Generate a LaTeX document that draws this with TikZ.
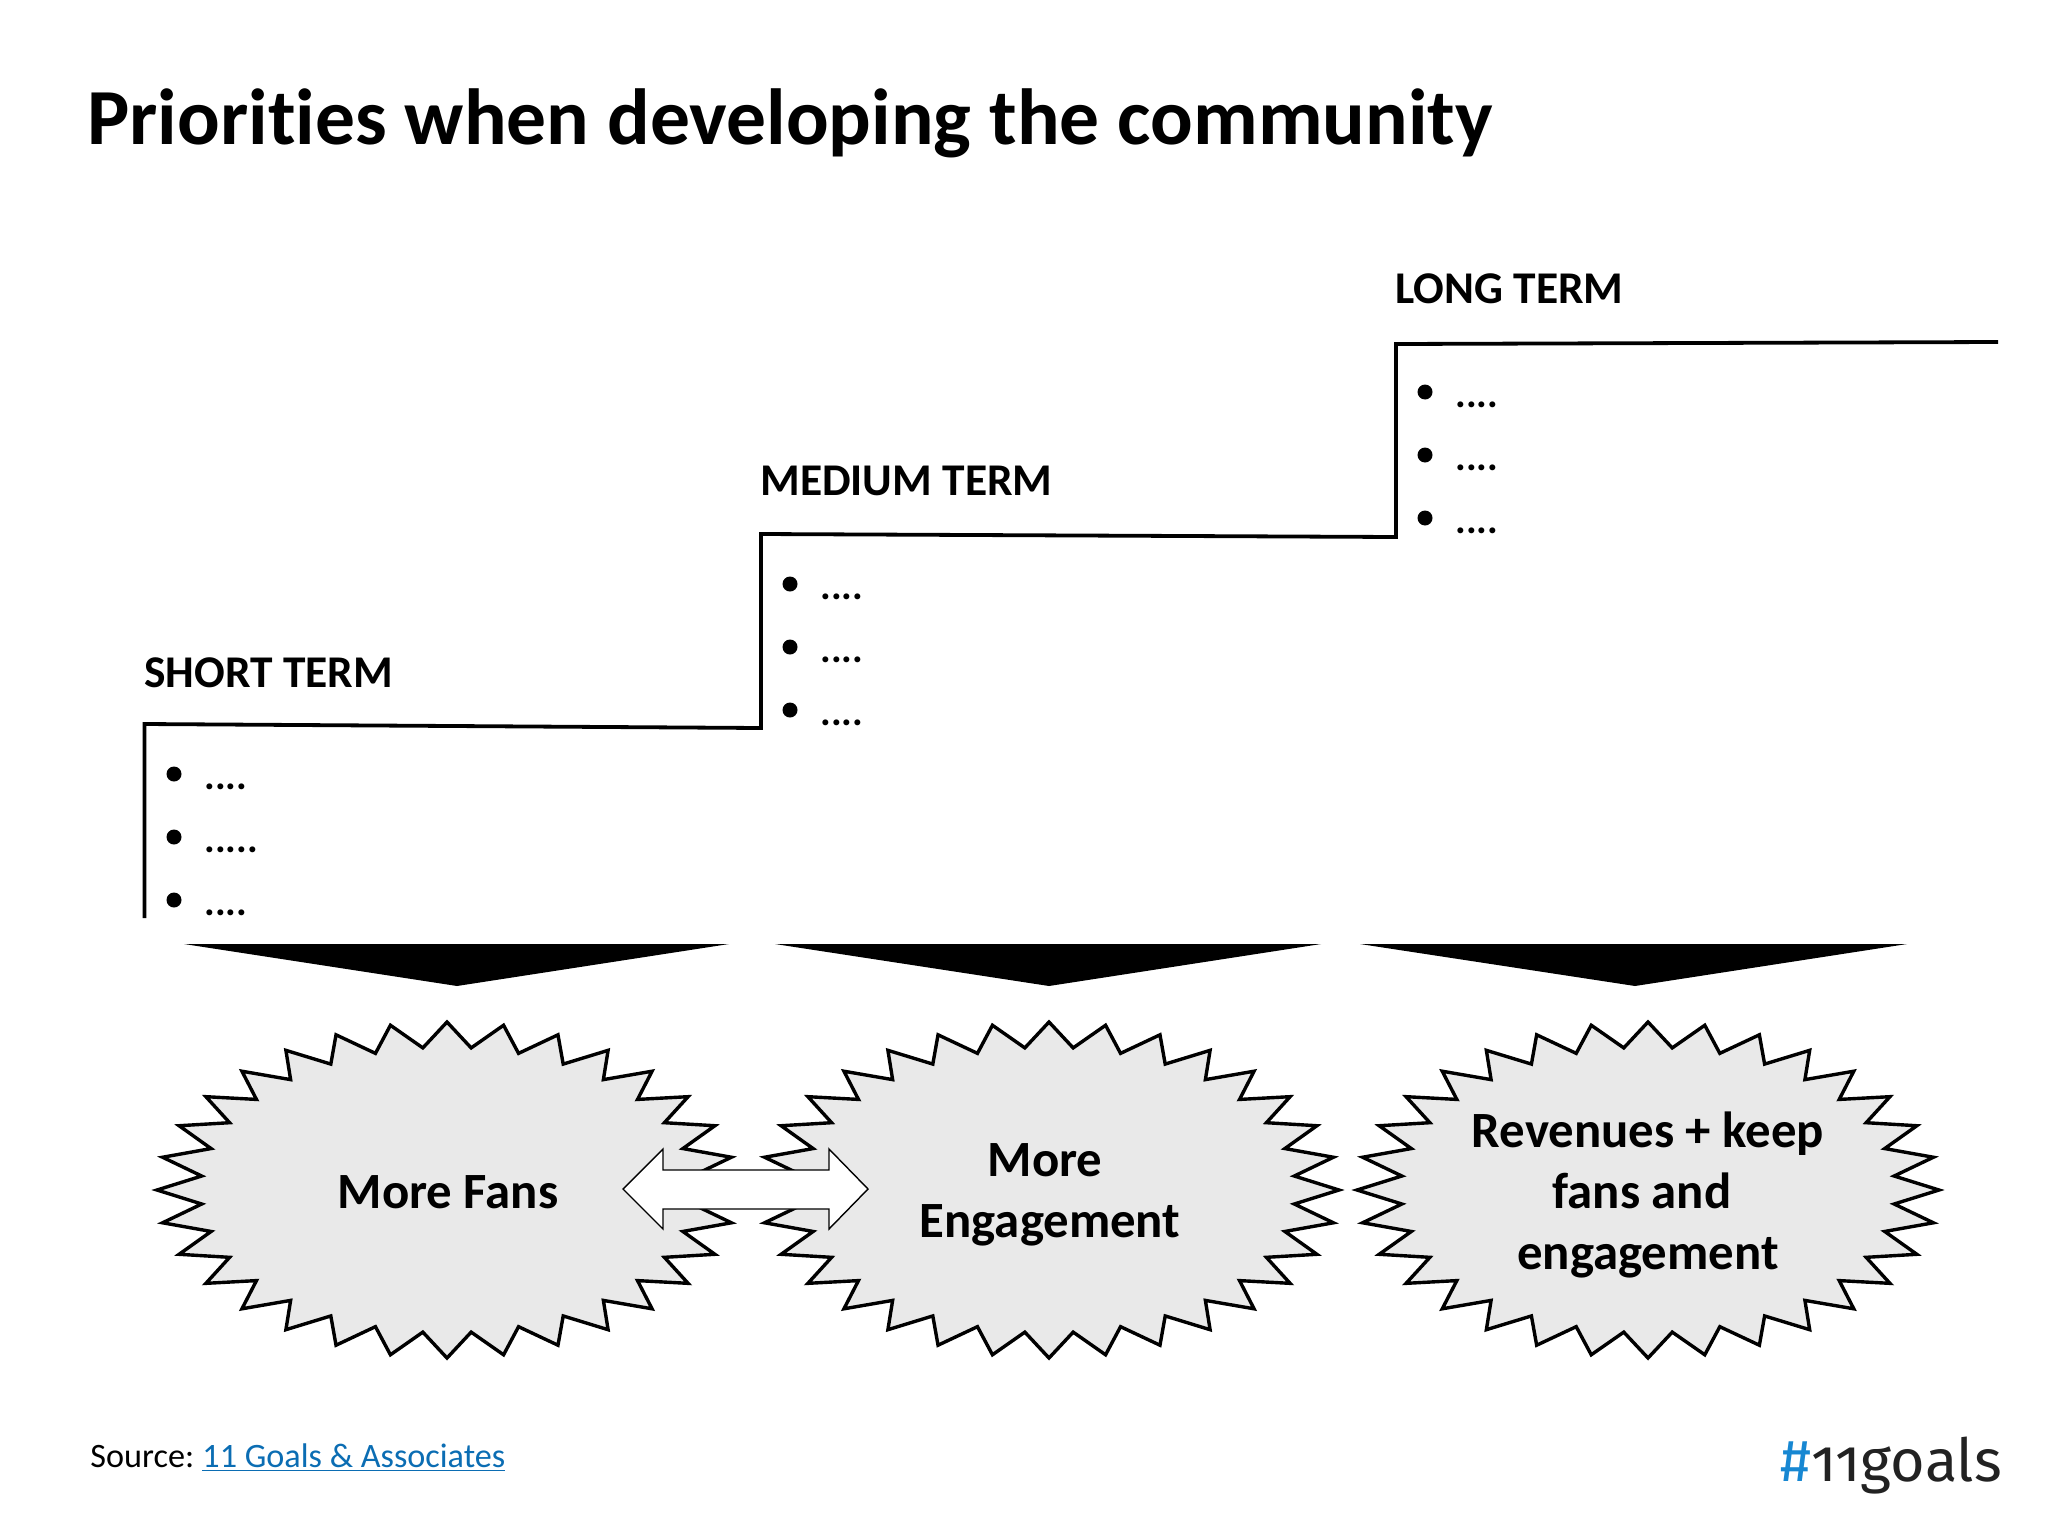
\documentclass[tikz,border=0pt]{standalone}
\usepackage{fontspec}
\setmainfont[Ligatures={NoCommon,TeX}]{Carlito}
\newfontfamily\logofont[Numbers=OldStyle]{Fira Sans}
\definecolor{burstgray}{HTML}{E9E9E9}
\definecolor{linkblue}{HTML}{0B6DB3}
\definecolor{hashblue}{HTML}{1787D2}
\definecolor{logogray}{HTML}{222222}
\tikzset{
  titletext/.style={anchor=base west,inner sep=0,font=\fontsize{39.75}{44}\selectfont\bfseries},
  termtext/.style={anchor=base west,inner sep=0,font=\fontsize{22.7}{26}\selectfont\bfseries},
  dotstext/.style={anchor=base west,inner sep=0,font=\fontsize{20}{24}\selectfont\bfseries},
  bullet/.style={circle,fill=black,inner sep=0,minimum size=7.5pt},
  stepline/.style={draw=black,line width=1.9pt,line join=miter},
  bigdown/.style={fill=black},
  burst/.style={draw=black,fill=burstgray,line width=1.7pt,miter limit=10},
  bursttext/.style={align=center,inner sep=0,font=\fontsize{25.4}{30.5}\selectfont\bfseries},
  twoway/.style={draw=black,fill=white,line width=0.7pt,miter limit=10},
}
\newcommand{\burstat}[4]{% cx cy rx ry
  \path[burst] plot[samples=65,domain=0:64]
    ({#1+#3*(0.85+0.15*(1-mod(round(\x),2)))*cos(\x*5.625)},
     {#2+#4*(0.85+0.15*(1-mod(round(\x),2)))*sin(\x*5.625)}) -- cycle;
}
\newcommand{\termblock}[7]{% name x y labely label d2 d3
  \node[termtext] (#1label) at (#2,#4) {#5};
  \node[bullet] (#1b1) at (#2+30,#3+49) {};
  \node[bullet] (#1b2) at (#2+30,#3+112) {};
  \node[bullet] (#1b3) at (#2+30,#3+175) {};
  \node[dotstext] (#1t1) at (#2+60,#3+64) {....};
  \node[dotstext] (#1t2) at (#2+60,#3+127) {#6};
  \node[dotstext] (#1t3) at (#2+60,#3+190) {#7};
}
\begin{document}
\begin{tikzpicture}[x=0.5pt,y=-0.5pt]
\useasboundingbox (0,0) rectangle (2048,1536);
\node[titletext] (title) at (87,144) {Priorities when developing the community};
\coordinate (s0) at (144.5,918);
\coordinate (s1) at (144.5,724);
\coordinate (s2) at (761,728);
\coordinate (s3) at (761,534);
\coordinate (s4) at (1396,537);
\coordinate (s5) at (1396,344);
\coordinate (s6) at (1998,342);
\draw[stepline] (s0) -- (s1) -- (s2) -- (s3) -- (s4) -- (s5) -- (s6);
\termblock{short}{144}{725}{687}{SHORT TERM}{.....}{....}
\termblock{medium}{760}{535}{495}{MEDIUM TERM}{....}{....}
\termblock{long}{1395}{343}{303}{LONG TERM}{....}{....}
\fill[bigdown] (184,944) -- (729,944) -- (457,986) -- cycle;
\fill[bigdown] (775,944) -- (1321,944) -- (1049,986) -- cycle;
\fill[bigdown] (1360,944) -- (1907,944) -- (1635,986) -- cycle;
\burstat{447}{1190}{290}{168}
\burstat{1049}{1190}{290}{168}
\burstat{1648}{1190}{291}{168}
\node[bursttext] (fans) at (448,1192) {More Fans};
\node[bursttext] (engage) at (1050,1195) {More\rule{5pt}{0pt}\\Engagement};
\node[bursttext] (revenue) at (1648,1195) {Revenues + keep\\fans and\rule{6pt}{0pt}\\engagement};
\draw[twoway] (623,1189) -- (663,1149) -- (663,1170) -- (829,1170) -- (829,1149) -- (868,1189)
  -- (829,1229) -- (829,1209) -- (663,1209) -- (663,1229) -- cycle;
\node[anchor=base west,inner sep=0,font=\fontsize{17.1}{20}\selectfont] (source) at (90,1467)
  {Source:\hspace{-1pt} \textcolor{linkblue}{\underline{11 Goals \& Associates}}};
\node[anchor=base west,inner sep=0,font=\logofont\fontsize{29.7}{32}\selectfont,text=logogray] (logo) at (1780,1481)
  {\textcolor{hashblue}{\#}11goals};
\end{tikzpicture}
\end{document}
